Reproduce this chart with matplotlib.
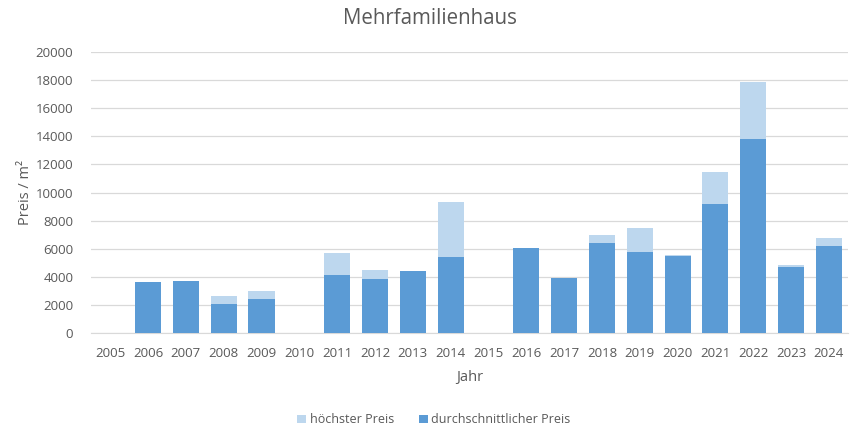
import numpy as np
import matplotlib.pyplot as plt
import matplotlib as mpl

mpl.rcParams['font.family'] = ['Open Sans', 'DejaVu Sans']

# Daten
jahre = ['2005', '2006', '2007', '2008', '2009', '2010', '2011', '2012', '2013', '2014',
         '2015', '2016', '2017', '2018', '2019', '2020', '2021', '2022', '2023', '2024']
durchschnitt = [0, 3630, 3720, 2060, 2420, 0, 4130, 3840, 4410, 5410,
                0, 6050, 3940, 6400, 5770, 5500, 9180, 13810, 4700, 6190]
hoechst = [0, 3630, 3720, 2630, 3010, 0, 5720, 4480, 4410, 9320,
           0, 6050, 3940, 7000, 7470, 5570, 11430, 17890, 4840, 6760]

farbe_hell = '#BDD7EE'
farbe_dunkel = '#5B9BD5'
textfarbe = '#595959'
gitter = '#D9D9D9'

fig = plt.figure(figsize=(8.59, 4.36), dpi=100)
ax = fig.add_axes([0.1063, 0.2362, 0.8806, 0.6445])

x = np.arange(len(jahre))
ax.bar(x, hoechst, width=0.69, color=farbe_hell, label='höchster Preis', zorder=2)
ax.bar(x, durchschnitt, width=0.69, color=farbe_dunkel, label='durchschnittlicher Preis', zorder=3)

ax.set_xlim(-0.5, len(jahre) - 0.5)
ax.set_ylim(0, 20000)
ax.set_yticks(np.arange(0, 20001, 2000))
ax.set_xticks(x)
ax.set_xticklabels(jahre)
ax.tick_params(axis='both', length=0, colors=textfarbe, labelsize=9.5)
ax.tick_params(axis='y', pad=13)
ax.tick_params(axis='x', pad=10)
ax.grid(axis='y', color=gitter, linewidth=0.9, zorder=0)
ax.set_axisbelow(True)
for s in ['top', 'right', 'left']:
    ax.spines[s].set_visible(False)
ax.spines['bottom'].set_color(gitter)

fig.text(0.5, 1 - 18 / 436, 'Mehrfamilienhaus', fontsize=14.8, color=textfarbe,
         ha='center', va='center')
ax.set_xlabel('Jahr', fontsize=10.5, color=textfarbe, labelpad=7.5)
ax.set_ylabel('Preis / m²', fontsize=10.5, color=textfarbe)
ax.yaxis.set_label_coords(-0.077, 0.5)

fig.legend(loc='center', bbox_to_anchor=(0.505, 0.037), ncol=2, frameon=False,
           fontsize=9, labelcolor=textfarbe, handlelength=0.7, handleheight=0.7,
           handletextpad=0.3, columnspacing=2.0)

fig.savefig('out.png', dpi=100)
